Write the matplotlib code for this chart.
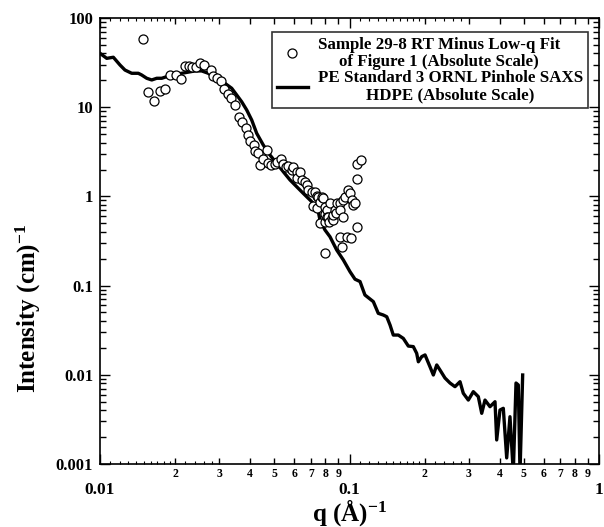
import numpy as np
import matplotlib
matplotlib.use("Agg")
import matplotlib.pyplot as plt
from matplotlib.ticker import FixedLocator, FuncFormatter, NullFormatter, LogLocator

plt.rcParams["font.family"] = ["Liberation Serif", "DejaVu Serif"]
plt.rcParams["font.weight"] = "bold"
plt.rcParams["mathtext.fontset"] = "custom"
plt.rcParams["mathtext.rm"] = "Liberation Serif:bold"
plt.rcParams["mathtext.it"] = "Liberation Serif:bold"
plt.rcParams["mathtext.bf"] = "Liberation Serif:bold"

# PE standard (ORNL pinhole SAXS, HDPE)
line_q = [0.0100, 0.01064, 0.01131, 0.01203, 0.01259, 0.01340, 0.01424, 0.01468,
          0.01539, 0.01612, 0.01688, 0.01768, 0.01851, 0.01939, 0.02126, 0.02403,
          0.02556, 0.02717, 0.02845, 0.02979, 0.03170, 0.03372, 0.03531, 0.03698,
          0.03873, 0.04055, 0.04246, 0.04512, 0.04801, 0.05106, 0.05429, 0.05774,
          0.06141, 0.06530, 0.06945, 0.07273, 0.07499, 0.07617, 0.07976, 0.08352,
          0.08884, 0.09445, 0.1005, 0.1052, 0.1102, 0.1153, 0.1208, 0.1246,
          0.1304, 0.1366, 0.1410, 0.1454, 0.1498, 0.1569, 0.1643, 0.1721,
          0.1802, 0.1859, 0.1888, 0.1948, 0.2008, 0.2102, 0.2168, 0.2237,
          0.2306, 0.2414, 0.2528, 0.2647, 0.2773, 0.2858, 0.2994, 0.3135,
          0.3283, 0.3388, 0.3492, 0.3657, 0.3830, 0.3890, 0.4010, 0.4135,
          0.4266, 0.4397, 0.4534, 0.4649, 0.4748, 0.4824, 0.4944]
line_I = [40.2, 35.3, 36.3, 29.7, 26.1, 24.0, 24.0, 23.0,
          21.1, 20.2, 21.1, 21.1, 22.0, 23.0, 24.0, 25.5,
          25.5, 24.0, 22.0, 20.2, 18.5, 16.3, 13.7, 11.5,
          9.3, 7.19, 5.10, 3.77, 2.91, 2.35, 1.89, 1.53,
          1.285, 1.08, 0.912, 0.802, 0.673, 0.543, 0.420, 0.353,
          0.251, 0.194, 0.143, 0.118, 0.111, 0.0785, 0.0708, 0.0661,
          0.0489, 0.0468, 0.0448, 0.0361, 0.0279, 0.0279, 0.0256, 0.0210,
          0.0207, 0.0174, 0.0140, 0.0160, 0.0167, 0.0123, 0.00995, 0.0129,
          0.0113, 0.0092, 0.00809, 0.00736, 0.00837, 0.00621, 0.00521, 0.00647,
          0.00569, 0.00370, 0.00521, 0.00439, 0.00499, 0.00186, 0.00403, 0.00421,
          0.00117, 0.00339, 0.0008, 0.00809, 0.00769, 0.0008, 0.00995]

# Sample 29-8 RT minus low-q fit
pts_q = [0.01491, 0.01557, 0.01646, 0.01735, 0.01830, 0.01909, 0.02008, 0.02105,
         0.02185, 0.02269, 0.02348, 0.02432, 0.02521, 0.02603, 0.02793, 0.02845,
         0.02944, 0.03055, 0.03146, 0.03267, 0.03356, 0.03467, 0.03613, 0.03715,
         0.03855, 0.03920, 0.04010, 0.04142, 0.04180, 0.04310, 0.04378, 0.04513,
         0.04669, 0.04726, 0.04855, 0.05028, 0.05122, 0.05315, 0.05389, 0.05566,
         0.05685, 0.05882, 0.05953, 0.06143, 0.06143, 0.06332, 0.06432, 0.06631,
         0.06737, 0.06837, 0.07054, 0.07159, 0.07272, 0.07387, 0.07387, 0.07496,
         0.07616, 0.07616, 0.07737, 0.07852, 0.07976, 0.07976, 0.07976, 0.07976,
         0.08102, 0.08102, 0.08222, 0.08299, 0.08352, 0.08486, 0.08565, 0.08612,
         0.08748, 0.08829, 0.08886, 0.09160, 0.09160, 0.09160, 0.09305, 0.09445,
         0.09445, 0.09594, 0.09799, 0.09890, 0.1005, 0.1014, 0.1020, 0.1035,
         0.1052, 0.1069, 0.1075, 0.1075, 0.1117]
pts_I = [57.7, 14.9, 11.8, 15.3, 16.0, 22.7, 23.0, 20.7,
         29.2, 29.3, 28.4, 27.9, 31.1, 29.5, 26.3, 22.4,
         21.1, 19.9, 16.0, 14.2, 12.6, 10.7, 7.83, 6.79,
         5.80, 4.88, 4.18, 3.77, 3.23, 3.04, 2.25, 2.63,
         3.31, 2.35, 2.27, 2.31, 2.45, 2.63, 2.31, 2.14,
         2.20, 1.99, 2.14, 1.88, 1.60, 1.89, 1.53, 1.46,
         1.34, 1.18, 1.13, 0.781, 1.12, 1.01, 0.736, 0.992,
         0.872, 0.499, 0.992, 0.952, 0.766, 0.635, 0.520, 0.230,
         0.704, 0.583, 0.592, 0.520, 0.837, 0.568, 0.544, 0.619,
         0.704, 0.657, 0.837, 0.837, 0.704, 0.353, 0.271, 0.911,
         0.592, 0.992, 0.353, 1.18, 1.08, 0.339, 0.911, 0.801,
         0.837, 0.450, 1.55, 2.29, 2.56]

y_ticks = [100, 10, 1, 0.1, 0.01, 0.001]
y_labels = ["100", "10", "1", "0.1", "0.01", "0.001"]
x_ticks = [0.01, 0.1, 1]
x_labels = ["0.01", "0.1", "1"]

fig = plt.figure(figsize=(6.04, 5.27), dpi=100)
pos = [100 / 604, 63 / 527, 499 / 604, 446 / 527]
ax = fig.add_axes(pos)

ax.plot(line_q, line_I, color="black", lw=2.4,
        label="PE Standard 3 ORNL Pinhole SAXS\nHDPE (Absolute Scale)", zorder=2)
ax.plot(pts_q, pts_I, ls="none", marker="o", ms=6.5, mfc="white", mec="black",
        mew=0.9, label="Sample 29-8 RT Minus Low-q Fit\nof Figure 1 (Absolute Scale)",
        zorder=3)

ax.set_xscale("log")
ax.set_yscale("log")
ax.set_xlim(0.01, 1)
ax.set_ylim(0.001, 100)

ax.set_yticks(y_ticks)
ax.set_yticklabels(y_labels)
ax.set_xticks(x_ticks)
ax.set_xticklabels(x_labels)
ax.yaxis.set_minor_locator(LogLocator(base=10, subs=np.arange(2, 10)))
ax.yaxis.set_minor_formatter(NullFormatter())
ax.xaxis.set_minor_locator(LogLocator(base=10, subs=np.arange(2, 10)))


def minor_lab(v, _):
    m = v / 10 ** np.floor(np.log10(v) + 1e-9)
    return "%d" % round(m)


ax.xaxis.set_minor_formatter(FuncFormatter(minor_lab))

ax.tick_params(which="both", direction="in", top=True, right=True, width=1.0)
ax.tick_params(which="major", length=7)
ax.tick_params(which="minor", length=4)
ax.tick_params(axis="y", which="major", labelsize=12, pad=5)
ax.tick_params(axis="x", which="major", labelsize=12.5, pad=13)
ax.tick_params(axis="x", which="minor", labelsize=8.5, pad=3)
for s in ax.spines.values():
    s.set_linewidth(1.2)

# fine ticks between 1-2 and 2-3 of each decade on the q axis
fine = [d * f for d in (0.01, 0.1) for f in (1.1, 1.2, 1.3, 1.4, 1.5, 1.6, 1.7, 1.8, 1.9,
                                              2.2, 2.4, 2.6, 2.8)]
axf = fig.add_axes(pos, frameon=False)
axf.set_xscale("log")
axf.set_xlim(0.01, 1)
axf.xaxis.set_major_locator(FixedLocator(fine))
axf.xaxis.set_minor_locator(FixedLocator([]))
axf.xaxis.set_major_formatter(NullFormatter())
axf.tick_params(axis="x", direction="in", length=2.5, top=True, bottom=True, width=0.8)
axf.set_yticks([])
axf.patch.set_visible(False)

ax.set_xlabel(r"q (Å)$^{-1}$", fontsize=18, fontweight="bold")
ax.set_ylabel(r"Intensity (cm)$^{-1}$", fontsize=18, fontweight="bold")
ax.yaxis.set_label_coords(-0.115, 0.35)
ax.xaxis.set_label_coords(0.5, -0.075)

handles, labels = ax.get_legend_handles_labels()
leg = ax.legend(handles[::-1], labels[::-1], loc="upper right",
                bbox_to_anchor=(0.978, 0.969), borderaxespad=0,
                fontsize=12.2, frameon=True, fancybox=False, edgecolor="black",
                handlelength=1.8, handletextpad=0.6, borderpad=0.3,
                labelspacing=0.05)
leg.get_frame().set_linewidth(1.2)
for t in leg.get_texts():
    t.set_multialignment("center")
    t.set_linespacing(1.05)

fig.savefig("out.png", dpi=100, facecolor="white")
